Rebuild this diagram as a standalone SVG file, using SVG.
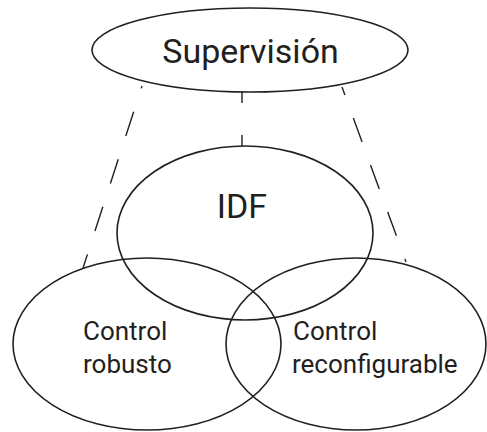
<svg xmlns="http://www.w3.org/2000/svg" width="487" height="432" viewBox="0 0 487 432">
<style>
.node{fill:none;stroke:#231f20;stroke-width:1.6}
.lbl{font-family:Roboto,"Noto Sans","Liberation Sans",sans-serif;fill:#231f20}
.dash{stroke:#231f20;stroke-width:1.4;fill:none;stroke-dasharray:25.5 24.5}
</style>
<rect width="487" height="432" fill="#ffffff"/>
<g id="connectors">
<line class="dash" x1="142" y1="86" x2="83" y2="268" stroke-dashoffset="23"/>
<line class="dash" x1="342" y1="87" x2="406" y2="262" stroke-dashoffset="17"/>
<line x1="242" y1="92" x2="242" y2="146" stroke="#231f20" stroke-width="1.4" stroke-dasharray="11 32"/>
</g>
<g id="supervision">
<ellipse class="node" cx="250" cy="50" rx="158" ry="42"/>
<text class="lbl" x="250.5" y="63" font-size="34" text-anchor="middle">Supervisión</text>
</g>
<g id="idf">
<ellipse class="node" cx="245" cy="233" rx="128" ry="87"/>
<text class="lbl" x="242" y="218" font-size="34" text-anchor="middle">IDF</text>
</g>
<g id="control-robusto">
<ellipse class="node" cx="147" cy="344" rx="134" ry="86"/>
<text class="lbl" x="83" y="340" font-size="26">Control</text>
<text class="lbl" x="83" y="373" font-size="26">robusto</text>
</g>
<g id="control-reconfigurable">
<ellipse class="node" cx="356" cy="344" rx="130" ry="86"/>
<text class="lbl" x="293" y="340" font-size="26">Control</text>
<text class="lbl" x="292" y="373" font-size="26">reconfigurable</text>
</g>
</svg>
